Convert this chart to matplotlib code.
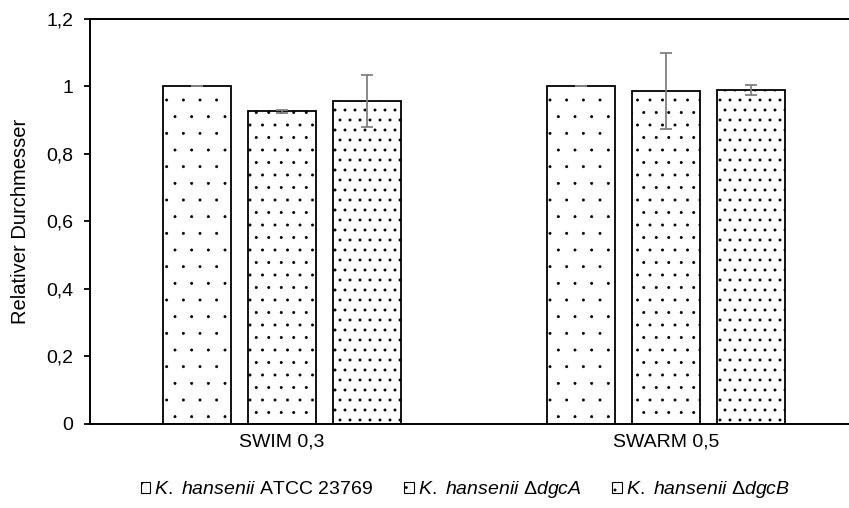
import matplotlib
matplotlib.use('Agg')
import matplotlib.pyplot as plt
import matplotlib.ticker as mticker
import matplotlib.hatch as mhatch
from matplotlib.patches import Rectangle
import numpy as np

# Schriften
plt.rcParams['font.family'] = ['Liberation Sans', 'DejaVu Sans']
plt.rcParams['mathtext.fontset'] = 'custom'
plt.rcParams['mathtext.rm'] = 'Liberation Sans'
plt.rcParams['mathtext.it'] = 'Liberation Sans:italic'
plt.rcParams['hatch.linewidth'] = 0.5


# Punktmuster: gleich grosse Punkte, nur der Abstand aendert sich
# (num_rows muss gerade sein)
class Dots(mhatch.Circles):
    filled = True

    def __init__(self, hatch, density):
        n = min(hatch.count('.'), 3)
        self.num_rows = [0, 6, 8, 10][n]
        self.size = 0.011 * self.num_rows
        super().__init__(hatch, density)


mhatch._hatch_types[mhatch._hatch_types.index(mhatch.SmallFilledCircles)] = Dots

# Daten
categories = ['SWIM 0,3', 'SWARM 0,5']
strains = [r'$\it{K.}$ $\it{hansenii}$ ATCC 23769',
           r'$\it{K.}$ $\it{hansenii}$ Δ$\it{dgcA}$',
           r'$\it{K.}$ $\it{hansenii}$ Δ$\it{dgcB}$']
values = [
    [1.0, 1.0],      # ATCC 23769
    [0.926, 0.986],  # dgcA
    [0.957, 0.990],  # dgcB
]
errors = [
    [0.0, 0.0],
    [0.004, 0.113],
    [0.078, 0.014],
]
hatches = ['.', '..', '...']

fig = plt.figure(figsize=(8.49, 5.08), dpi=100)
ax = fig.add_axes([0.106, 0.1654, 0.9046, 0.7972])

x = np.arange(len(categories))
width = 0.177
offsets = [-0.2225, 0.0, 0.2225]

for i in range(len(strains)):
    ax.bar(x + offsets[i], values[i], width, color='white', edgecolor='black',
           linewidth=1.3, hatch=hatches[i], zorder=2)
    ax.errorbar(x + offsets[i], values[i], yerr=errors[i], fmt='none',
                ecolor='#808080', elinewidth=1.3, capsize=4, capthick=1.3, zorder=3)

ax.set_xlim(-0.5, 1.5)
ax.set_ylim(0, 1.2)
ax.set_yticks(np.arange(0, 1.21, 0.2))
ax.yaxis.set_major_formatter(mticker.FuncFormatter(
    lambda v, p: '0' if abs(v) < 1e-9 else ('%g' % round(v, 1)).replace('.', ',')))
ax.set_xticks(x)
ax.set_xticklabels(categories)
ax.tick_params(axis='x', length=0, labelsize=14, pad=7)
ax.tick_params(axis='y', length=4, width=1.3, labelsize=14, pad=8)
for s in ax.spines.values():
    s.set_linewidth(1.4)
ax.set_ylabel('Relativer Durchmesser', fontsize=14.5)
ax.yaxis.set_label_coords(-0.078, 0.5)

# Legende
handles = [Rectangle((0, 0), 1, 1, facecolor='white', edgecolor='black',
                     linewidth=0.8, hatch=h) for h in hatches]
fig.legend(handles, strains, loc='center', bbox_to_anchor=(0.548, 0.036), ncol=3,
           frameon=False, fontsize=14, handlelength=0.5, handleheight=0.5,
           handletextpad=0.2, columnspacing=1.6)

fig.savefig('out.png', dpi=100)
